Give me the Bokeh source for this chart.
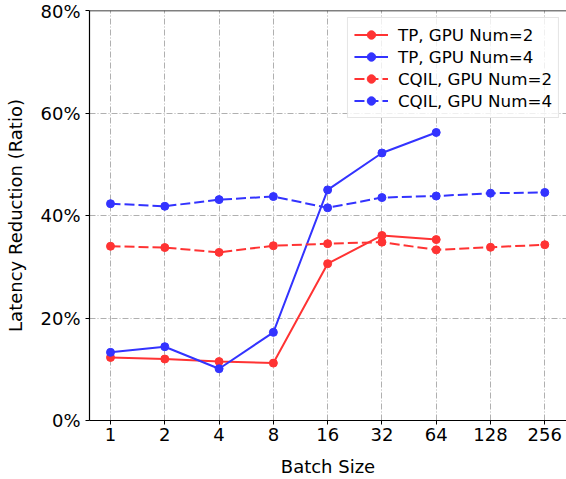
from bokeh.plotting import figure
from bokeh.models import Span, Legend, LegendItem, FixedTicker, NumeralTickFormatter, Range1d
from bokeh.embed import file_html
from bokeh.resources import INLINE

batch_sizes = ["1", "2", "4", "8", "16", "32", "64", "128", "256"]
tp_gpu2 = [0.123, 0.120, 0.115, 0.112, 0.306, 0.361, 0.353]
tp_gpu4 = [0.133, 0.144, 0.101, 0.172, 0.450, 0.522, 0.562]
cqil_gpu2 = [0.340, 0.3375, 0.328, 0.341, 0.345, 0.348, 0.333, 0.338, 0.343]
cqil_gpu4 = [0.423, 0.418, 0.431, 0.437, 0.415, 0.435, 0.438, 0.4435, 0.445]
y_ticks = [0.0, 0.2, 0.4, 0.6, 0.8]

RED = "#ff3333"
BLUE = "#3333ff"
FONT = "DejaVu Sans"

p = figure(width=566, height=479, output_backend="svg", toolbar_location=None,
           x_range=Range1d(-0.387, 8.40), y_range=Range1d(0, 0.8),
           min_border_left=89, min_border_top=10, min_border_right=0, min_border_bottom=59)
p.outline_line_color = None
p.background_fill_color = "white"

idx = list(range(len(batch_sizes)))

series = [
    ("TP, GPU Num=2", tp_gpu2, RED, "solid"),
    ("TP, GPU Num=4", tp_gpu4, BLUE, "solid"),
    ("CQIL, GPU Num=2", cqil_gpu2, RED, "10 4"),
    ("CQIL, GPU Num=4", cqil_gpu4, BLUE, "10 4"),
]
items = []
for name, vals, col, dash in series:
    xs = idx[:len(vals)]
    r1 = p.line(xs, vals, line_color=col, line_width=2, line_dash=dash)
    r2 = p.scatter(xs, vals, size=8, fill_color=col, line_color=col)
    items.append(LegendItem(label=name, renderers=[r1, r2]))

legend = Legend(items=items, location="top_right")
legend.label_text_font = FONT
legend.label_text_font_size = "16.7px"
legend.label_text_color = "black"
legend.label_height = 21
legend.glyph_width = 34
legend.glyph_height = 21
legend.spacing = 1
legend.padding = 6
legend.margin = 7
legend.border_line_color = "#cccccc"
legend.border_line_width = 1
legend.background_fill_alpha = 0.8
legend.label_standoff = 10
p.add_layout(legend)

# grid
for g in (p.xgrid, p.ygrid):
    g.grid_line_color = "#b0b0b0"
    g.grid_line_dash = "6 2 1 2"
    g.grid_line_width = 1
p.xgrid.ticker = FixedTicker(ticks=idx)
p.ygrid.ticker = FixedTicker(ticks=y_ticks)

# axes
p.xaxis.ticker = FixedTicker(ticks=idx)
p.xaxis.major_label_overrides = {i: b for i, b in enumerate(batch_sizes)}
p.yaxis.ticker = FixedTicker(ticks=y_ticks)
p.yaxis.formatter = NumeralTickFormatter(format="0%")
for ax in (p.xaxis, p.yaxis):
    ax.axis_line_color = "black"
    ax.axis_line_width = 1.2
    ax.major_tick_line_color = "black"
    ax.major_tick_out = 4
    ax.major_tick_in = 0
    ax.minor_tick_line_color = None
    ax.major_label_text_font = FONT
    ax.major_label_text_font_size = "18px"
    ax.major_label_text_color = "black"
    ax.axis_label_text_font = FONT
    ax.axis_label_text_font_size = "18px"
    ax.axis_label_text_font_style = "normal"
    ax.axis_label_text_color = "black"
p.xaxis.axis_label = "Batch Size"
p.yaxis.axis_label = "Latency Reduction (Ratio)"
p.xaxis.major_label_standoff = 3
p.xaxis.axis_label_standoff = 12
p.yaxis.major_label_standoff = 5
p.yaxis.axis_label_standoff = 11

top = Span(location=0.8, dimension="width", line_color="black", line_width=1.5)
p.add_layout(top)

open("out.html", "w").write(file_html(p, INLINE))
